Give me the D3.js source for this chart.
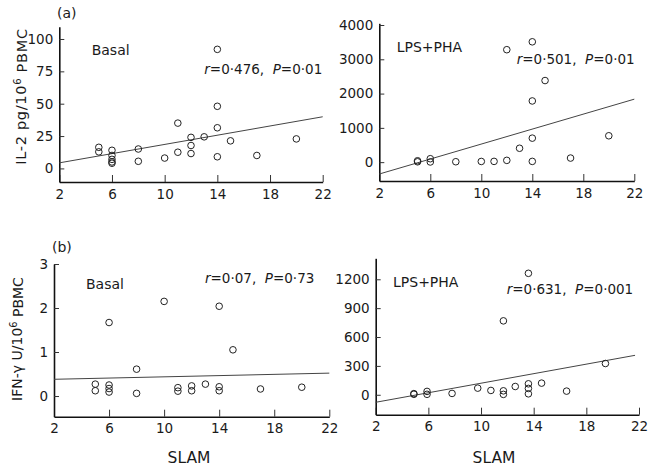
<!DOCTYPE html>
<html><head><meta charset="utf-8">
<script src="https://cdn.jsdelivr.net/npm/d3@7"></script>
<style>
body{margin:0;background:#fff;}
svg text{font-family:"DejaVu Sans",Verdana,sans-serif;fill:#1a1a1a;}
</style></head>
<body><svg id="c" width="670" height="470"></svg>
<script>
// ---- data ----
const xTicks = [2, 6, 10, 14, 18, 22];
const xLabel = "SLAM";

// (a) IL-2, Basal
const il2BasalX = [5, 5, 6, 6, 6, 6, 6, 8, 8, 10, 11, 11, 12, 12, 12, 13, 14, 14, 14, 14, 15, 17, 20];
const il2BasalY = [16.3, 12.8, 14, 10, 7, 5, 4, 15, 5.5, 8, 35, 12.5, 24, 17.7, 11.5, 24.4, 92, 48, 31.4, 9, 21.3, 10, 22.8];
const il2BasalFit = [[2, 4.3], [22, 39.9]];
const il2BasalTicks = [0, 25, 50, 75, 100];

// (a) IL-2, LPS+PHA
const il2LpsX = [5, 5, 6, 6, 8, 10, 11, 12, 12, 13, 14, 14, 14, 14, 15, 17, 20];
const il2LpsY = [40, 10, 100, 5, 12, 20, 22, 52, 3280, 405, 3510, 1785, 700, 22, 2380, 119, 769];
const il2LpsFit = [[2, -346], [22, 1837]];
const il2LpsTicks = [0, 1000, 2000, 3000, 4000];

// (b) IFN-gamma, Basal
const ifnBasalX = [5, 5, 6, 6, 6, 6, 8, 8, 10, 11, 11, 12, 12, 13, 14, 14, 14, 15, 17, 20];
const ifnBasalY = [0.27, 0.12, 1.67, 0.25, 0.17, 0.09, 0.61, 0.06, 2.15, 0.19, 0.11, 0.23, 0.12, 0.27, 2.04, 0.21, 0.12, 1.05, 0.16, 0.2];
const ifnBasalFit = [[2, 0.38], [22, 0.52]];
const ifnBasalTicks = [0, 1, 2, 3];

// (b) IFN-gamma, LPS+PHA
const ifnLpsX = [4.9, 4.9, 5.9, 5.9, 7.8, 9.75, 10.75, 11.7, 11.7, 11.7, 12.6, 13.6, 13.6, 13.6, 13.6, 14.6, 16.5, 19.45];
const ifnLpsY = [12, 5, 35, 5, 14, 69, 45, 768, 41, 4, 86, 1262, 114, 66, 10, 121, 38, 325];
const ifnLpsFit = [[2, -78], [21.7, 410]];
const ifnLpsTicks = [0, 300, 600, 900, 1200];

const panelNames = ["Basal", "LPS+PHA", "Basal", "LPS+PHA"];
const statR = ["0·476", "0·501", "0·07", "0·631"];
const statP = ["0·01", "0·01", "0·73", "0·001"];

// ---- layout ----
const svg = d3.select("#c");
const panels = [
  {xs: il2BasalX, ys: il2BasalY, fit: il2BasalFit, ticks: il2BasalTicks,
   xr: [59.3, 322.7], yr: [182, 26.7], yd: [-10.5, 109.5],
   name: [91.7, 55], stat: [204.3, 74]},
  {xs: il2LpsX, ys: il2LpsY, fit: il2LpsFit, ticks: il2LpsTicks,
   xr: [379.3, 634.3], yr: [181, 23.3], yd: [-550, 4050],
   name: [396.7, 52], stat: [516.7, 64]},
  {xs: ifnBasalX, ys: ifnBasalY, fit: ifnBasalFit, ticks: ifnBasalTicks,
   xr: [54, 329.3], yr: [416.7, 264], yd: [-0.47, 3],
   name: [86, 289], stat: [205, 283]},
  {xs: ifnLpsX, ys: ifnLpsY, fit: ifnLpsFit, ticks: ifnLpsTicks,
   xr: [375.7, 639], yr: [414.7, 258.3], yd: [-207, 1418],
   name: [393, 287], stat: [506.7, 294]}
];

panels.forEach((p, i) => {
  const x = d3.scaleLinear().domain([2, 22]).range(p.xr);
  const y = d3.scaleLinear().domain(p.yd).range(p.yr);
  const g = svg.append("g");

  const xa = g.append("g").attr("transform", `translate(0,${p.yr[0]})`)
    .call(d3.axisBottom(x).tickValues(xTicks).tickSizeInner(-7).tickSizeOuter(0).tickPadding(7).tickFormat(d3.format("d")));
  const ya = g.append("g").attr("transform", `translate(${p.xr[0]},0)`)
    .call(d3.axisLeft(y).tickValues(p.ticks).tickSizeInner(-5).tickSizeOuter(0).tickPadding(6).tickFormat(d3.format("d")));
  [xa, ya].forEach(a => {
    a.select(".domain").attr("stroke", "#111").attr("stroke-width", 1.6);
    a.selectAll(".tick line").attr("stroke", "#333").attr("stroke-width", 1);
    a.selectAll("text").attr("font-size", 13.5).attr("font-family", "DejaVu Sans").attr("fill", "#1a1a1a");
  });

  g.append("line")
    .attr("x1", x(p.fit[0][0])).attr("y1", y(p.fit[0][1]))
    .attr("x2", x(p.fit[1][0])).attr("y2", y(p.fit[1][1]))
    .attr("stroke", "#444").attr("stroke-width", 1);

  g.selectAll("circle").data(p.xs.map((v, k) => [v, p.ys[k]])).join("circle")
    .attr("cx", d => x(d[0])).attr("cy", d => y(d[1])).attr("r", 3.3)
    .attr("fill", "none").attr("stroke", "#222").attr("stroke-width", 1);

  g.append("text").attr("x", p.name[0]).attr("y", p.name[1]).attr("font-size", 14).text(panelNames[i]);
  const st = g.append("text").attr("x", p.stat[0]).attr("y", p.stat[1]).attr("font-size", 13.5);
  st.append("tspan").attr("font-style", "italic").text("r");
  st.append("tspan").text("=" + statR[i] + ",\u00A0\u00A0");
  st.append("tspan").attr("font-style", "italic").text("P");
  st.append("tspan").text("=" + statP[i]);
});

svg.append("text").attr("x", 57).attr("y", 18).attr("font-size", 14).text("(a)");
svg.append("text").attr("x", 52).attr("y", 252).attr("font-size", 14).text("(b)");

function yTitle(cx, cy, main, unit, size, ls) {
  const t = svg.append("text").attr("transform", `translate(${cx},${cy}) rotate(-90)`)
    .attr("text-anchor", "middle").attr("font-size", size).attr("letter-spacing", ls);
  t.append("tspan").text(main + "10");
  t.append("tspan").attr("dy", "-0.45em").attr("font-size", size * 0.7).text("6");
  t.append("tspan").attr("dy", "0.45em").text(" " + unit);
}
yTitle(25.5, 96.5, "IL-2 pg/", "PBMC", 14.5, 0.7);
yTitle(21.5, 339, "IFN-γ U/", "PBMC", 14, 0);

svg.append("text").attr("x", 189).attr("y", 463).attr("text-anchor", "middle").attr("font-size", 15.5).text(xLabel);
svg.append("text").attr("x", 494).attr("y", 463).attr("text-anchor", "middle").attr("font-size", 15.5).text(xLabel);
</script></body></html>
